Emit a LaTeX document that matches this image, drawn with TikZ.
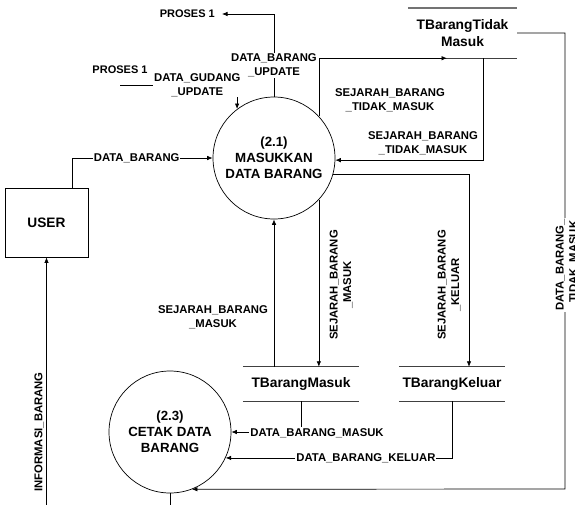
\documentclass[tikz,border=0pt]{standalone}
\usepackage{fontspec}
\setmainfont{Liberation Sans}
\usetikzlibrary{arrows.meta}
\begin{document}
\begin{tikzpicture}[x=1pt,y=-1pt,
  flow/.style={draw=black, line width=0.7pt, -{Latex[length=5.5pt,width=4.5pt]}},
  proc/.style={circle, draw, line width=0.7pt, minimum size=122pt, inner sep=0pt,
    align=center, font=\bfseries\fontsize{13.3}{16}\selectfont},
  ent/.style={rectangle, draw, line width=0.8pt, minimum width=83pt, minimum height=69pt,
    inner sep=0pt, font=\bfseries\fontsize{13.7}{16}\selectfont},
  store/.style={rectangle, inner sep=0pt, align=center,
    font=\bfseries\fontsize{13.8}{17}\selectfont},
  storeline/.style={draw=black!75, line width=1pt},
  lbl/.style={fill=white, inner sep=1pt, align=center,
    font=\bfseries\fontsize{11.3}{13.5}\selectfont},
  ext/.style={inner sep=0pt, font=\bfseries\fontsize{11}{13}\selectfont}]

\path[use as bounding box, clip] (0,0) rectangle (575,504);

% processes and the external entity
\node[proc] (p21) at (274,158) {(2.1)\\MASUKKAN\\DATA BARANG};
\node[proc] (p23) at (170,432) {(2.3)\\CETAK DATA\\BARANG};
\node[ent] (user) at (46.5,222.5) {USER};

% data stores
\node[store, minimum width=109pt, minimum height=50pt] (ttm) at (462.5,33) {TBarangTidak\\Masuk};
\node[store, minimum width=116pt, minimum height=34pt] (tbm) at (301,384) {TBarangMasuk};
\node[store, minimum width=106pt, minimum height=34pt] (tbk) at (452,384) {TBarangKeluar};
\draw[storeline, draw=black!55, line width=1.4pt] (ttm.north west) -- (ttm.north east);
\draw[storeline] (ttm.south west) -- (ttm.south east);
\foreach \s in {tbm,tbk}
  \draw[storeline] (\s.north west) -- (\s.north east) (\s.south west) -- (\s.south east);

% references to the other process
\node[ext, inner xsep=7pt, anchor=east] (pr1a) at (222,14) {PROSES 1};
\node[ext] (pr1b) at (120,70) {PROSES 1};

% bend points of the long flows
\coordinate (g0) at (120,85);
\coordinate (rt) at (565,489);
\coordinate (low) at (100,516);

% data flows
\draw[flow] ([xshift=25.5pt]user.north) |- (p21.west)
  node[lbl, pos=0.73] {DATA\_BARANG};
\draw[flow] (p21.north) |- (pr1a.east)
  node[lbl, pos=0.19] {DATA\_BARANG\\\_UPDATE};
\draw[flow] (g0) -| (p21.127.6)
  node[lbl, pos=0.33] {DATA\_GUDANG\\\_UPDATE};
\draw[flow] (p21.43.7) |- ([xshift=-15.5pt]ttm.south)
  node[lbl, fill=none] at (390,100) {SEJARAH\_BARANG\\\_TIDAK\_MASUK};
\draw[flow] ([xshift=20.5pt]ttm.south) |- (p21.-2)
  node[lbl, fill=none] at (423,143) {SEJARAH\_BARANG\\\_TIDAK\_MASUK};
\draw[flow] (p21.-15.2) -| ([xshift=17pt]tbk.north)
  node[lbl, fill=none, rotate=90] at (449,285) {SEJARAH\_BARANG\\\_KELUAR};
\draw[flow] (p21.-43.7) -- (p21.-43.7 |- tbm.north)
  node[lbl, fill=none, rotate=90] at (341,285) {SEJARAH\_BARANG\\\_MASUK};
\draw[flow] (tbm.north -| p21.south) -- (p21.south)
  node[lbl, fill=none] at (213,317) {SEJARAH\_BARANG\\\_MASUK};
\draw[flow] (tbm.south) |- (p23.east)
  node[lbl] at (317,433) {DATA\_BARANG\_MASUK};
\draw[flow] (tbk.south) |- (p23.-25.3)
  node[lbl, pos=0.69] {DATA\_BARANG\_KELUAR};
\draw[flow] (ttm.east) -| (rt) -- (p23.-69.2)
  node[lbl, rotate=90] at (567,265) {DATA\_BARANG\_\\\_TIDAK\_MASUK};
\draw[flow] (p23.south) |- (low) -| (user.south)
  node[lbl, fill=none, rotate=90] at (39,432) {INFORMASI\_BARANG};
\end{tikzpicture}
\end{document}
